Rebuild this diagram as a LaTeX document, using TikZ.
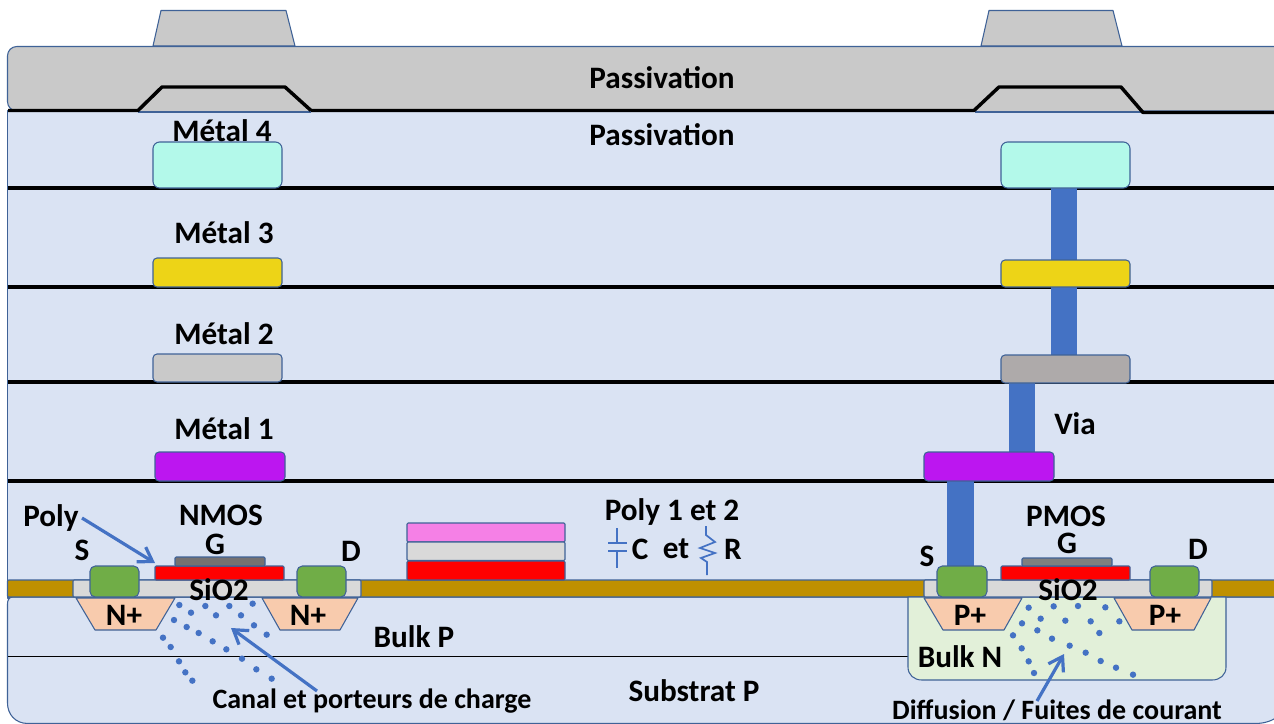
\documentclass[tikz,border=0pt]{standalone}
\usepackage{fontspec}
\setmainfont{Carlito}
\usetikzlibrary{arrows.meta}
\definecolor{edgeblue}{HTML}{3F6297}
\definecolor{panelblue}{HTML}{DAE3F3}
\definecolor{viablue}{HTML}{4472C4}
\definecolor{passgrey}{HTML}{C9C9C9}
\definecolor{oxgrey}{HTML}{D9D9D9}
\definecolor{goldox}{HTML}{BF9000}
\definecolor{mfour}{HTML}{B3F9EA}
\definecolor{mthree}{HTML}{EDD417}
\definecolor{mtwor}{HTML}{AEAAAA}
\definecolor{mone}{HTML}{BC16F0}
\definecolor{contact}{HTML}{70AD47}
\definecolor{diff}{HTML}{F8CBAD}
\definecolor{bulkn}{HTML}{E2F0D9}
\definecolor{pinkpoly}{HTML}{F580E6}
\definecolor{gatea}{HTML}{757171}
\definecolor{gateb}{HTML}{7F7F7F}
\tikzset{
  x=0.75pt,y=-0.75pt,
  shape outline/.style={draw=edgeblue,line width=0.8pt,line join=round},
  metalbox/.style={shape outline,rounded corners=5pt},
  smallbox/.style={shape outline,rounded corners=3pt},
  contactbox/.style={shape outline,rounded corners=4pt},
  flatbox/.style={shape outline,rounded corners=0.8pt},
  sharpbox/.style={shape outline},
  level line/.style={black,line width=2.6pt},
  via/.style={fill=viablue,draw=none},
  lbl/.style={font=\fontsize{23.4}{23.4}\selectfont\bfseries,inner sep=0pt,text=black},
  lbls/.style={font=\fontsize{21}{21}\selectfont\bfseries,inner sep=0pt,text=black},
  pointer/.style={draw=viablue,line width=2.4pt,-{Straight Barb[length=10pt,width=13pt,line width=2.4pt]}},
  symbol/.style={draw=viablue,line width=1.3pt,line join=miter},
  dot/.style={fill=viablue,draw=none},
}
\begin{document}
\begin{tikzpicture}
\useasboundingbox (0,0) rectangle (1274,724);
\clip (0,0) rectangle (1274,724);
\fill[white] (0,0) rectangle (1274,724);

% ---- pads above the passivation
\draw[sharpbox,fill=passgrey] (153,46) -- (161,10.5) -- (286,10.5) -- (295,46) -- cycle;
\draw[sharpbox,fill=passgrey] (981,46) -- (989,10.5) -- (1113,10.5) -- (1122,46) -- cycle;

% ---- dielectric panel
\draw[sharpbox,fill=panelblue] (7.5,111) rectangle (1280,598);
% ---- substrate: small rounding on top, wide rounding below
\draw[sharpbox,fill=panelblue] (7.5,604) .. controls (7.5,600) and (9,597) .. (13,597) -- (1290,597) -- (1290,700)
  .. controls (1285,712) and (1275,723.5) .. (1255,723.5) -- (28,723.5) .. controls (15,723.5) and (7.5,714) .. (7.5,703) -- cycle;

% ---- passivation layer
\draw[shape outline,rounded corners=7pt,fill=passgrey] (7.5,46.5) rectangle (1284,111);
\fill[passgrey] (138,111) -- (162,87) -- (285,87) -- (311,111) -- cycle;
\fill[passgrey] (975,111) -- (999,87) -- (1121,87) -- (1143,112) -- cycle;
\draw[edgeblue,line width=0.8pt] (138,112) -- (311,112);
\draw[edgeblue,line width=0.8pt] (975,112) -- (1143,112);
\draw[level line,line join=bevel] (8,110.5) -- (138,110.5) -- (162,87) -- (285,87) -- (311,110.5);
\draw[level line,line join=bevel] (311,110.5) -- (974,110.5) -- (999,87) -- (1121,87) -- (1143,112.5) -- (1276,112.5);

% ---- level lines
\foreach \yy in {188,287,382,481}{\draw[level line] (8,\yy) -- (1276,\yy);}
\draw[black,line width=1.2pt] (8,656.5) -- (908,656.5);

% ---- vias
\fill[via] (1051,188) rectangle (1077,261);
\fill[via] (1051,287) rectangle (1077,356);
\fill[via] (1009,382) rectangle (1035,453);
\fill[via] (947,481) rectangle (974,567);

% ---- metals
\draw[metalbox,fill=mfour] (153,142) rectangle (282,188);
\draw[metalbox,fill=mfour] (1001,142) rectangle (1130,188);
\draw[smallbox,fill=mthree] (153,258) rectangle (282,287);
\draw[smallbox,fill=mthree] (1001,260) rectangle (1130,287);
\draw[smallbox,fill=passgrey] (153,354) rectangle (282,382);
\draw[smallbox,fill=mtwor] (1001,355) rectangle (1130,383);
\draw[smallbox,fill=mone] (155,452) rectangle (285,481);
\draw[smallbox,fill=mone] (924,452) rectangle (1054,481);

% ---- oxide band
\draw[flatbox,fill=goldox] (7.5,580) rectangle (1285,597);

% ---- Bulk N well
\draw[sharpbox,fill=bulkn] (908,597) -- (908,667) .. controls (908,675) and (914,680) .. (922,680) -- (1212,680) .. controls (1220,680) and (1226,675) .. (1226,667) -- (1226,597) -- cycle;

% ---- SiO2 windows
\draw[flatbox,fill=oxgrey] (73,580) rectangle (361,597);
\draw[flatbox,fill=oxgrey] (924,580) rectangle (1212,597);

% ---- diffusions
\draw[sharpbox,fill=diff] (76,598) -- (175,598) -- (156,630) -- (95,630) -- cycle;
\draw[sharpbox,fill=diff] (262,598) -- (358,598) -- (340,630) -- (280,630) -- cycle;
\draw[sharpbox,fill=diff] (924,598) -- (1022,598) -- (1004,630) -- (943,630) -- cycle;
\draw[sharpbox,fill=diff] (1114,598) -- (1211,598) -- (1194,630) -- (1132,630) -- cycle;

% ---- contacts, gates
\draw[contactbox,fill=contact] (90,566) rectangle (139,597);
\draw[contactbox,fill=contact] (297,566) rectangle (346,597);
\draw[contactbox,fill=contact] (937,566) rectangle (987,597);
\draw[contactbox,fill=contact] (1150,566) rectangle (1199,597);
\draw[flatbox,fill=red] (155,566) rectangle (284,580);
\draw[flatbox,fill=red] (1001,566) rectangle (1130,580);
\draw[flatbox,fill=gatea] (175,557) rectangle (265,566);
\draw[flatbox,fill=gateb] (1022,558) rectangle (1112,566);

% ---- poly stack
\draw[flatbox,fill=pinkpoly] (407,523) rectangle (565,542);
\draw[flatbox,fill=oxgrey] (407,542) rectangle (565,560.5);
\draw[flatbox,fill=red] (407,561) rectangle (565,580);

% ---- carrier dots
\foreach \dx/\dy in {538/345,616/348,688/348,758/341,573/368,648/376,723/376,522/390,560/411,596/429,638/454,679/478,726/506,769/538,815/566,762/406,800/434,489/443,512/471,537/514,556/547,577/572}
  {\fill[dot] ({\dx/3},{490+\dy/3}) circle (2.4pt);}
\foreach \dx/\dy in {446/353,521/349,594/348,676/352,482/386,426/400,556/392,632/394,718/394,472/421,399/436,516/446,658/429,569/467,425/475,617/488,446/514,662/513,708/533,462/549,759/554}
  {\fill[dot] ({880+\dx/3},{490+\dy/3}) circle (2.4pt);}

% ---- C and R symbols
\draw[symbol] (617,528) -- (617,543) (608,543) -- (627,543) (608,551) -- (627,551) (617,551) -- (617,568);
\draw[symbol] (706,526) -- (706,535) -- (715,542) -- (700,548) -- (715,553) -- (701,558) -- (707,562) -- (707,575);

% ---- labels
\node[lbl] (passA) at (662,78) {Passivation};
\node[lbl] (passB) at (662,135) {Passivation};
\node[lbl] (mq) at (222,131) {Métal 4};
\node[lbl] (mt) at (224,233) {Métal 3};
\node[lbl] (md) at (224,334) {Métal 2};
\node[lbl] (mu) at (224,429) {Métal 1};
\node[lbl] (via) at (1075,424) {Via};
\node[lbl] (poly) at (51,518) {Poly};
\node[lbl] (nmos) at (221,515) {NMOS};
\node[lbl] (gn) at (215,544) {G};
\node[lbl] (sn) at (82,550) {S};
\node[lbl] (dn) at (351,551) {D};
\node[lbl] (ox1) at (219,590) {SiO2};
\node[lbl] (na) at (124,615) {N+};
\node[lbl] (nb) at (308,615) {N+};
\node[lbl] (bp) at (414,637) {Bulk P};
\node[lbl] (pp) at (672,512) {Poly 1 et 2};
\node[lbl] (cc) at (640,549) {C};
\node[lbl] (et) at (676,549) {et};
\node[lbl] (rr) at (733,549) {R};
\node[lbl] (pmos) at (1066,516) {PMOS};
\node[lbl] (gp) at (1067,543) {G};
\node[lbl] (sp) at (927,556) {S};
\node[lbl] (dp) at (1198,549) {D};
\node[lbl] (ox2) at (1068,590) {SiO2};
\node[lbl] (pa) at (970,615) {P+};
\node[lbl] (pb) at (1165,615) {P+};
\node[lbl] (bn) at (960,657) {Bulk N};
\node[lbl] (sub) at (694,691) {Substrat P};
\node[lbls] (canal) at (372,701) {Canal et porteurs de charge};
\node[lbls] (fuite) at (1057,710) {Diffusion / Fuites de courant};

% ---- pointers
\coordinate (polyTail) at (82,518);
\coordinate (polyTip) at (155,563);
\coordinate (canalTail) at (317,691);
\coordinate (canalTip) at (231,628);
\coordinate (fuiteTail) at (1037,701);
\coordinate (fuiteTip) at (1064,654);
\draw[pointer] (polyTail) -- (polyTip);
\draw[pointer] (canalTail) -- (canalTip);
\draw[pointer] (fuiteTail) -- (fuiteTip);
\end{tikzpicture}
\end{document}
